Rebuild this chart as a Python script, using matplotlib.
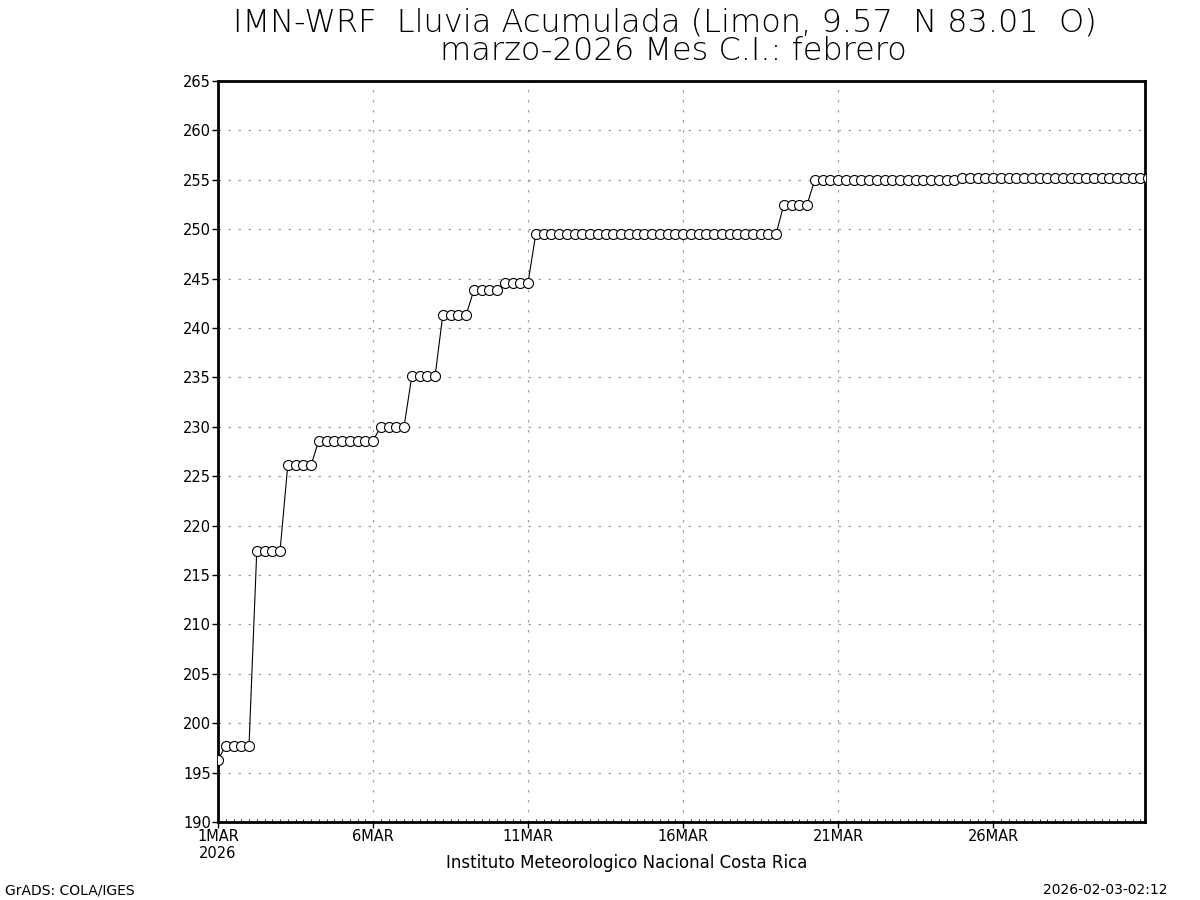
import matplotlib
matplotlib.use('Agg')
import matplotlib.pyplot as plt
from matplotlib.ticker import MultipleLocator, FixedLocator

# accumulated rain (mm), one value every 6 h starting 1MAR 00Z
lluvia = [
    196.3, 197.7, 197.7, 197.7, 197.7, 217.4, 217.4, 217.4, 217.4,
    226.1, 226.1, 226.1, 226.1,
    228.6, 228.6, 228.6, 228.6, 228.6, 228.6, 228.6, 228.6,
    230.0, 230.0, 230.0, 230.0,
    235.1, 235.1, 235.1, 235.1,
    241.3, 241.3, 241.3, 241.3,
    243.8, 243.8, 243.8, 243.8,
    244.6, 244.6, 244.6, 244.6,
    249.5, 249.5, 249.5, 249.5, 249.5, 249.5, 249.5, 249.5,
    249.5, 249.5, 249.5, 249.5, 249.5, 249.5, 249.5, 249.5,
    249.5, 249.5, 249.5, 249.5, 249.5, 249.5, 249.5, 249.5,
    249.5, 249.5, 249.5, 249.5, 249.5, 249.5, 249.5, 249.5,
    252.5, 252.5, 252.5, 252.5,
    255.0, 255.0, 255.0, 255.0, 255.0, 255.0, 255.0, 255.0, 255.0, 255.0,
    255.0, 255.0, 255.0, 255.0, 255.0, 255.0, 255.0, 255.0, 255.0,
    255.2, 255.2, 255.2, 255.2, 255.2, 255.2, 255.2, 255.2, 255.2, 255.2,
    255.2, 255.2, 255.2, 255.2, 255.2, 255.2, 255.2, 255.2, 255.2, 255.2,
    255.2, 255.2, 255.2, 255.2, 255.2,
]
dias = [i * 0.25 for i in range(len(lluvia))]   # days since 1MAR 00Z

tick_dias = [0, 5, 10, 15, 20, 25]
tick_labels = ['1MAR\n2026', '6MAR', '11MAR', '16MAR', '21MAR', '26MAR']

titulo1 = 'IMN-WRF  Lluvia Acumulada (Limon, 9.57  N 83.01  O)'
titulo2 = 'marzo-2026 Mes C.I.: febrero'

fig = plt.figure(figsize=(12, 9), dpi=100)
ax = fig.add_axes([218/1200, 1-822/900, (1145-218)/1200, (822-81)/900])

ax.plot(dias, lluvia, '-', color='black', lw=0.8, marker='o', ms=7.2,
        mfc='white', mec='black', mew=0.8, zorder=3)

ax.set_xlim(0, 29.9)
ax.set_ylim(190, 265)
ax.yaxis.set_major_locator(MultipleLocator(5))
ax.xaxis.set_major_locator(FixedLocator(tick_dias))
ax.set_xticklabels(tick_labels)
ax.xaxis.set_minor_locator(MultipleLocator(0.25))
ax.tick_params(which='major', direction='out', length=4, width=1, labelsize=10.5, pad=1)
ax.tick_params(axis='x', which='minor', direction='in', length=2, width=0.6)
for lab in ax.get_xticklabels():
    lab.set_horizontalalignment('center')
    lab.set_verticalalignment('top')

ax.grid(True, which='major', color='#a0a0a0', lw=0.9, linestyle=(0, (2, 6)))
for s in ax.spines.values():
    s.set_linewidth(2)

fig.text(665/1200, 1-22/900, titulo1, ha='center', va='center', fontsize=23, fontweight='light')
fig.text(673/1200, 1-51/900, titulo2, ha='center', va='center', fontsize=23, fontweight='light')
fig.text(627/1200, 1-863/900, 'Instituto Meteorologico Nacional Costa Rica',
         ha='center', va='center', fontsize=12)
fig.text(5/1200, 1-890/900, 'GrADS: COLA/IGES', ha='left', va='center', fontsize=10)
fig.text(1168/1200, 1-890/900, '2026-02-03-02:12', ha='right', va='center', fontsize=10)

fig.savefig('out.png', dpi=100)
